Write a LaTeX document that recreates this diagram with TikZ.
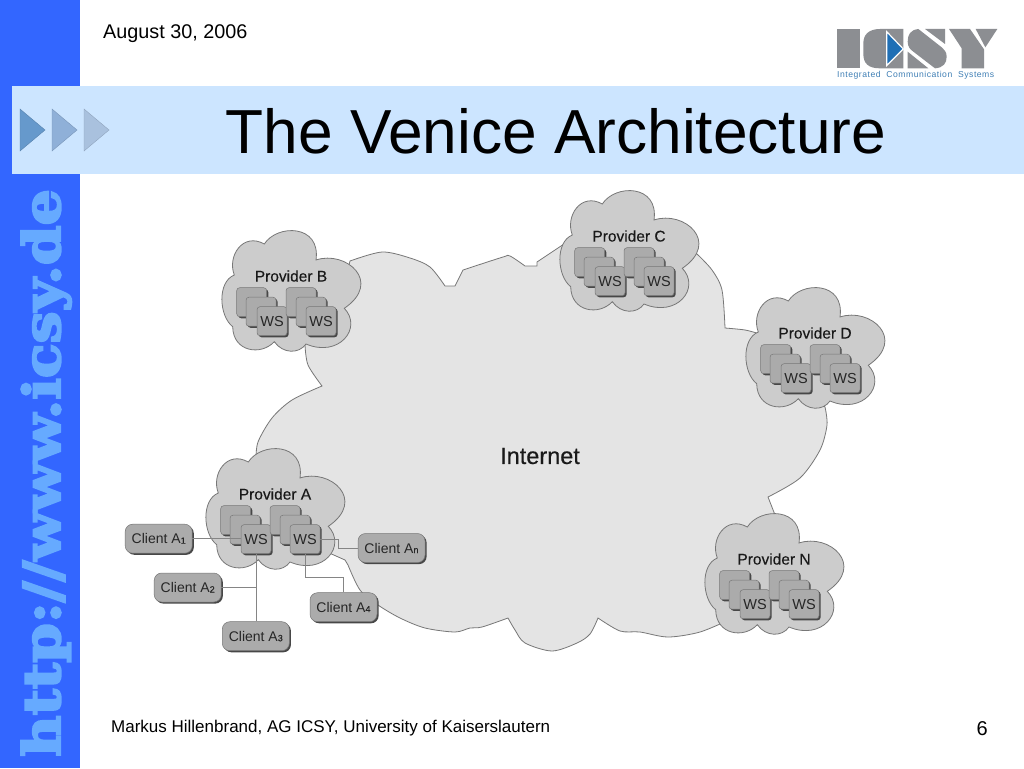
\documentclass[tikz,border=0pt]{standalone}
\usepackage{fontspec}
\setmainfont{Liberation Sans}
\newfontfamily\fatface[FakeBold=4]{DejaVu Serif Bold}
\usetikzlibrary{shadows,calc}
\definecolor{sidebar}{HTML}{3366FF}
\definecolor{sidetext}{HTML}{66AAFF}
\definecolor{band}{HTML}{CCE5FF}
\definecolor{tria}{HTML}{6699CC}
\definecolor{trib}{HTML}{8FB0D8}
\definecolor{tric}{HTML}{A9C1DE}
\definecolor{logogray}{HTML}{8C8E92}
\definecolor{logoblue}{HTML}{1F6FB5}
\definecolor{logotext}{HTML}{3F7FB5}
\definecolor{netfill}{HTML}{E4E4E4}
\definecolor{cloudfill}{HTML}{CCCCCC}
\definecolor{boxfill}{HTML}{ABABAB}
\definecolor{edge}{HTML}{777777}
\newcommand{\fsz}[1]{\fontsize{#1}{#1}\selectfont}
\tikzset{
  outline/.style={draw=edge,line width=0.8pt},
  shadowed/.style={drop shadow={shadow xshift=1.6pt,shadow yshift=-1.6pt,opacity=1,fill=black!72}},
  wsbox/.style={shadowed,draw=edge,line width=0.5pt,fill=boxfill,rounded corners=3pt,minimum width=30pt,minimum height=29pt,inner sep=0pt,font=\fsz{14.5},text=black!85},
  clientbox/.style={shadowed,draw=edge,line width=0.5pt,fill=boxfill,rounded corners=7.5pt,minimum width=67pt,minimum height=29pt,inner sep=0pt,font=\fsz{14},text=black!85},
  link/.style={draw=edge!90!white,line width=1pt},
  pics/provider/.style={code={
    \path[outline,fill=cloudfill] (-56.7,-1)
      .. controls (-64,-20) and (-48,-44) .. (-26.7,-32)
      .. controls (-14,-52) and (30,-52) .. (25,-16)
      .. controls (55,-26) and (92,6) .. (53.3,32.3)
      .. controls (72,52) and (48,82) .. (15,68)
      .. controls (8,78) and (-8,78) .. (-16.7,65.7)
      .. controls (-30,80) and (-58,76) .. (-58.3,50.7)
      .. controls (-72,40) and (-74,6) .. (-56.7,-1) -- cycle;
    \node[font=\fsz{15.5}\addfontfeature{FakeBold=0.2},text=black!90] (-label) at (0,0) {Provider #1};
    \node[wsbox] (-b1) at (-39.3,26.2) {};
    \node[wsbox] (-b2) at (-30,35.7) {};
    \node[wsbox] (-ws1) at (-19,45.2) {WS};
    \node[wsbox] (-b4) at (10,26.2) {};
    \node[wsbox] (-b5) at (20,35.7) {};
    \node[wsbox] (-ws2) at (30,45.2) {WS};
  }}
}
\begin{document}
\begin{tikzpicture}[x=1pt,y=-1pt]
\useasboundingbox (0,0) rectangle (1024,768);
\fill[white] (0,0) rectangle (1024,768);
% sidebar and header band
\fill[sidebar] (0,0) rectangle (80,768);
\node[rotate=90,anchor=base west,inner sep=0pt,text=sidetext,font=\fatface\fsz{51},xscale=1.115] (url) at (60,757) {http://www.icsy.de};
\fill[band] (12,86) rectangle (1024,174);
\path[draw=tria!85!black,fill=tria,line width=0.4pt] (20,109) -- (45,130) -- (20,151) -- cycle;
\path[draw=trib!85!black,fill=trib,line width=0.4pt] (52,109) -- (77,130) -- (52,151) -- cycle;
\path[draw=tric!85!black,fill=tric,line width=0.4pt] (84,109) -- (109,130) -- (84,151) -- cycle;
\node[anchor=base,inner sep=0pt,font=\fsz{62.2}] (title) at (556,153) {The Venice Architecture};
\node[anchor=base west,inner sep=0pt,font=\fsz{19.8}] (date) at (103,38) {August 30, 2006};
% logo
\begin{scope}[shift={(800,0)},x=1pt/3,y=-1pt/3]
  \fill[logogray] (112,87) rectangle (180,205);
  \fill[logogray] (310,87) -- (240,87) .. controls (205,87) and (190,105) .. (190,130)
     -- (190,162) .. controls (190,190) and (205,205) .. (240,205) -- (310,205) -- cycle;
  \path[draw=white,fill=logoblue,line width=1.2pt] (260,95) -- (310,147) -- (260,197) -- cycle;
  \fill[logogray] (375,87) -- (435,87) -- (435,132) -- cycle;
  \fill[logogray] (355,87) .. controls (330,90) and (323,105) .. (323,125)
     .. controls (323,140) and (330,148) .. (340,155) -- (405,205)
     .. controls (430,203) and (440,190) .. (440,170)
     .. controls (440,155) and (432,148) .. (425,142) -- cycle;
  \fill[logogray] (323,155) -- (323,205) -- (385,205) -- cycle;
  \fill[logogray] (447,87) -- (510,87) -- (552,148) -- (552,205) -- (485,205) -- (485,145) -- cycle;
  \fill[logogray] (527,87) -- (592,87) -- (556,142) -- cycle;
\end{scope}
\node[anchor=base west,inner sep=0pt,text=logotext,font=\fsz{8.6}\addfontfeature{LetterSpace=6}] (logotxt) at (837,77.5) {Integrated\ \ Communication\ \ Systems};
% internet
\path[outline,fill=netfill] (340,300) -- (350,261)
  -- plot[smooth,tension=0.5] coordinates {(350,261) (382,252) (410,258) (430,267) (445,286)}
  -- (455,286) -- (463,270)
  -- plot[smooth,tension=0.5] coordinates {(463,270) (503,257) (510,256) (525,266)}
  -- (537,266) -- (537,262) -- (576,236) -- (640,250) -- (697,254)
  -- plot[smooth,tension=0.5] coordinates {(697,254) (712,270) (722,290) (725,328)}
  -- plot[smooth,tension=0.5] coordinates {(725,328) (745,330) (760,334)}
  -- (800,380) -- (825,407)
  -- plot[smooth,tension=0.5] coordinates {(825,407) (827,425) (820,450) (800,478) (768,497)}
  -- (777,520) -- (760,580) -- (731,619)
  -- plot[smooth,tension=0.5] coordinates {(731,619) (700,632) (668,637) (640,632) (620,631) (598,618)}
  -- plot[smooth,tension=0.5] coordinates {(598,618) (590,634) (577,643) (552,651) (525,643) (515,630) (508,618)}
  -- plot[smooth,tension=0.5] coordinates {(508,618) (482,627) (470,628) (455,632) (425,628) (400,618) (378,605) (360,590) (348,565)}
  -- (345,560) -- (300,540) -- (256,460)
  -- plot[smooth,tension=0.5] coordinates {(256,460) (258,442) (272,418) (292,400) (322,386)}
  -- plot[smooth,tension=0.5] coordinates {(322,386) (308,365) (305,345)}
  -- cycle;
\node[font=\fsz{23.5}\addfontfeature{FakeBold=0.4},text=black!90] (internet) at (540,456) {Internet};
% providers
\pic (pb) at (291,276) {provider={B}};
\pic (pc) at (629,236) {provider={C}};
\pic (pd) at (815,333) {provider={D}};
\pic (pn) at (774,559) {provider={N}};
\pic (pa) at (275,494) {provider={A}};
% clients
\node[clientbox] (ca1) at (158.7,538.7) {Client A{\fsz{9}\addfontfeature{FakeBold=0.5}1}};
\node[clientbox] (can) at (391.5,548) {Client A{\fsz{9}\addfontfeature{FakeBold=0.5}n}};
\node[clientbox] (ca2) at (187.7,587.5) {Client A{\fsz{9}\addfontfeature{FakeBold=0.5}2}};
\node[clientbox] (ca3) at (255.8,636.2) {Client A{\fsz{9}\addfontfeature{FakeBold=0.5}3}};
\node[clientbox] (ca4) at (343.5,607.2) {Client A{\fsz{9}\addfontfeature{FakeBold=0.5}4}};
\coordinate (ja4) at (343.5,577.3);
\coordinate (jan) at (338,548);
% connectors
\draw[link] (ca1.east) -- (pa-ws1.west |- ca1.east);
\draw[link] (pa-ws1.south) -- (pa-ws1.south |- ca3.north);
\draw[link] (ca2.east) -- (ca2.east -| pa-ws1.south);
\draw[link] (pa-ws2.south) |- (ja4) -- (ca4.north);
\draw[link] (pa-ws2.east) -| (jan) -- (can.west);
% footer
\node[anchor=base west,inner sep=0pt,font=\fsz{17}] (foot) at (111,732) {Markus Hillenbrand, AG ICSY, University of Kaiserslautern};
\node[anchor=base east,inner sep=0pt,font=\fsz{20}] (page) at (988,735) {6};
\end{tikzpicture}
\end{document}
